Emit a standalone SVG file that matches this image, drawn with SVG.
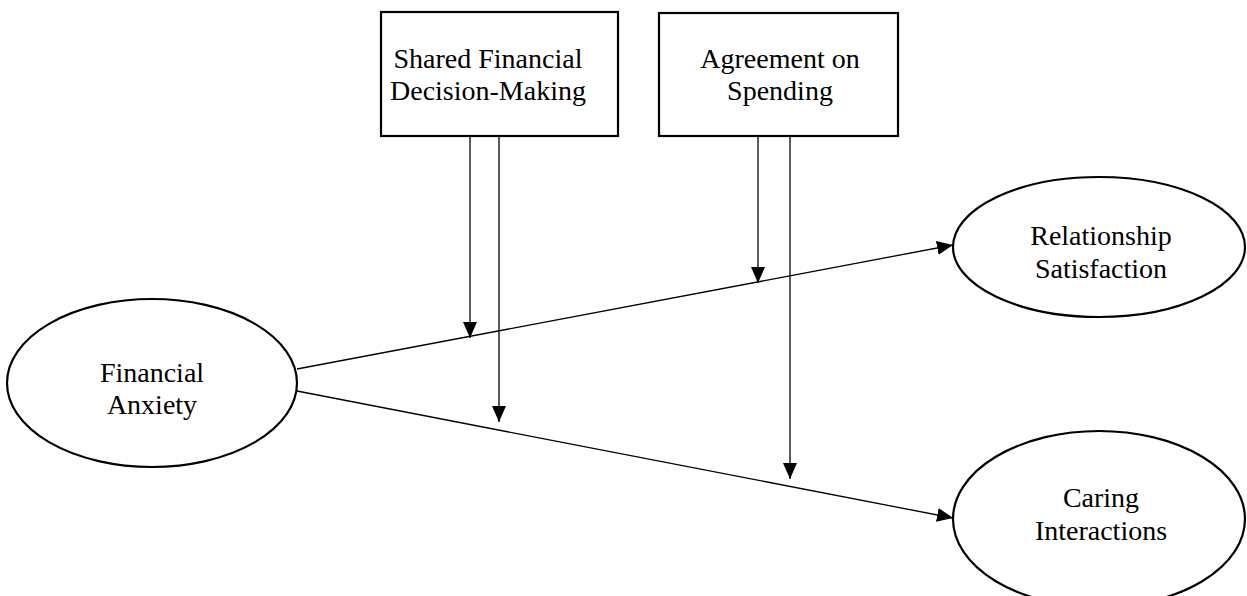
<svg xmlns="http://www.w3.org/2000/svg" width="1247" height="596" viewBox="0 0 1247 596">
<style>
.box{fill:#fff;stroke:#000;stroke-width:2.2}
.ell{fill:#fff;stroke:#000;stroke-width:2.2}
.t{font-family:"Liberation Serif","Times New Roman",serif;font-size:28px;fill:#000;text-anchor:middle}
.c{stroke:#000;stroke-width:1.3;fill:none;marker-end:url(#ah)}
</style>
<defs>
<marker id="ah" markerUnits="userSpaceOnUse" markerWidth="16" markerHeight="14" viewBox="0 0 16 14" refX="16" refY="7" orient="auto">
<path d="M0,0 L16,7 L0,14 Z" fill="#000"/>
</marker>
</defs>
<g id="connectors">
<line class="c" x1="297" y1="369" x2="953" y2="245"/>
<line class="c" x1="297" y1="391" x2="953" y2="518"/>
<line class="c" x1="470" y1="136" x2="470" y2="338"/>
<line class="c" x1="499" y1="136" x2="499" y2="422"/>
<line class="c" x1="758" y1="136" x2="758" y2="283"/>
<line class="c" x1="790" y1="136" x2="790" y2="479"/>
</g>
<g id="node-shared">
<rect class="box" x="381" y="12" width="237" height="124"/>
<text class="t" x="488" y="68">Shared Financial</text>
<text class="t" x="488" y="100">Decision-Making</text>
</g>
<g id="node-agreement">
<rect class="box" x="659" y="13" width="239" height="123"/>
<text class="t" x="780" y="68">Agreement on</text>
<text class="t" x="780" y="100">Spending</text>
</g>
<g id="node-anxiety">
<ellipse class="ell" cx="152" cy="383" rx="145" ry="84"/>
<text class="t" x="152" y="382">Financial</text>
<text class="t" x="152" y="414">Anxiety</text>
</g>
<g id="node-satisfaction">
<ellipse class="ell" cx="1099" cy="247" rx="146" ry="70"/>
<text class="t" x="1101" y="245">Relationship</text>
<text class="t" x="1101" y="278">Satisfaction</text>
</g>
<g id="node-caring">
<ellipse class="ell" cx="1099" cy="519" rx="146" ry="88"/>
<text class="t" x="1101" y="507">Caring</text>
<text class="t" x="1101" y="540">Interactions</text>
</g>
</svg>
